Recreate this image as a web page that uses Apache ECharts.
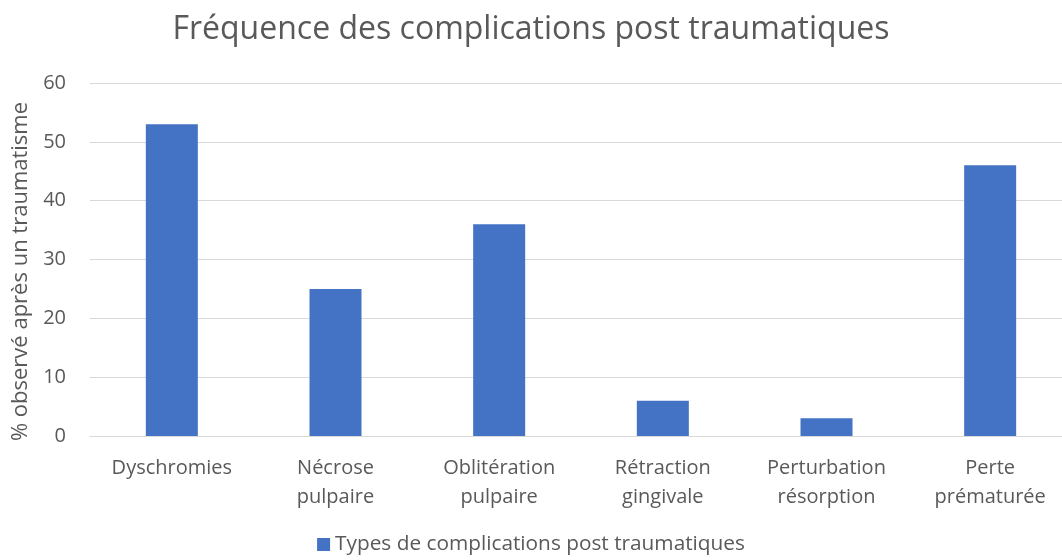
<!DOCTYPE html>
<html>
<head>
<meta charset="utf-8">
<script src="https://cdn.jsdelivr.net/npm/echarts@6/dist/echarts.min.js"></script>
<style>
html, body { margin: 0; padding: 0; background: #fff; }
#charts { width: 1062px; height: 560px; }
</style>
</head>
<body>
<div id="charts"></div>
<script>
var categories = ['Dyschromies', 'Nécrose\npulpaire', 'Oblitération\npulpaire', 'Rétraction\ngingivale', 'Perturbation\nrésorption', 'Perte\nprématurée'];
var values = [53, 25, 36, 6, 3, 46];
var seriesName = 'Types de complications post traumatiques';

var font = '"Open Sans", "Noto Sans", sans-serif';
var grey = '#595959';

var myChart = echarts.init(document.getElementById('charts'));
var option = {
	animation: false,
	title: {
		text: 'Fréquence des complications post traumatiques',
		left: 'center',
		top: 9,
		textStyle: { fontFamily: font, fontSize: 32, fontWeight: 'normal', color: grey }
	},
	legend: {
		bottom: 0,
		left: 'center',
		itemWidth: 13,
		itemHeight: 13,
		itemGap: 6,
		icon: 'rect',
		textStyle: { fontFamily: font, fontSize: 20.8, color: grey }
	},
	grid: { left: 90, right: -10, top: 83, bottom: 124, outerBoundsMode: 'none' },
	xAxis: {
		type: 'category',
		data: categories,
		axisTick: { show: false },
		axisLine: { lineStyle: { color: '#d9d9d9' } },
		axisLabel: { fontFamily: font, fontSize: 20, color: grey, lineHeight: 29, margin: 18 }
	},
	yAxis: {
		type: 'value',
		min: 0,
		max: 60,
		interval: 10,
		name: '% observé après un traumatisme',
		nameLocation: 'middle',
		nameGap: 49,
		nameTextStyle: { fontFamily: font, fontSize: 22, color: grey, padding: [0, 24, 0, 0] },
		axisLabel: { fontFamily: font, fontSize: 20, color: grey, margin: 24 },
		splitLine: { lineStyle: { color: '#d9d9d9', width: 1 } }
	},
	series: [{
		name: seriesName,
		type: 'bar',
		data: values,
		barWidth: 52,
		itemStyle: { color: '#4472c4' }
	}]
};
myChart.setOption(option);
</script>
</body>
</html>
